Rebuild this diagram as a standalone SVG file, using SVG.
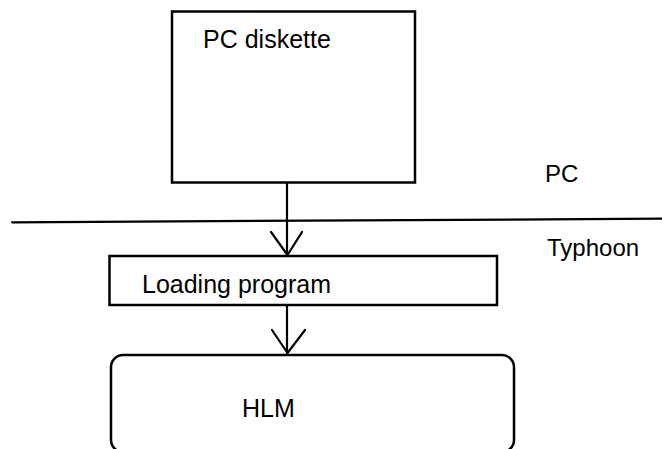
<svg xmlns="http://www.w3.org/2000/svg" width="662" height="449" viewBox="0 0 662 449">
  <style>
    .box { fill: #ffffff; stroke: #000000; stroke-width: 2.5; }
    .edge { fill: none; stroke: #000000; stroke-width: 2.2; stroke-linecap: round; stroke-linejoin: round; }
    .lbl { font-family: "Liberation Sans", Arial, sans-serif; font-size: 25px; fill: #000000; }
    .zone { font-family: "Liberation Sans", Arial, sans-serif; font-size: 24px; fill: #000000; }
  </style>
  <rect width="662" height="449" fill="#ffffff"/>

  <!-- boundary between PC and Typhoon -->
  <g id="boundary">
    <line class="edge" x1="12" y1="222.3" x2="662" y2="218.7"/>
    <text class="zone" x="545" y="182">PC</text>
    <text class="zone" x="547" y="256">Typhoon</text>
  </g>

  <g id="pc-diskette">
    <rect class="box" x="172" y="11.5" width="243" height="171"/>
    <text class="lbl" x="203" y="48">PC diskette</text>
  </g>

  <g id="loading-program">
    <rect class="box" x="109.5" y="256" width="387.5" height="49"/>
    <text class="lbl" x="142" y="293">Loading program</text>
  </g>

  <g id="hlm">
    <rect class="box" x="111" y="355" width="403" height="97" rx="12" ry="12"/>
    <text class="lbl" x="242" y="417">HLM</text>
  </g>

  <g id="connectors">
    <line class="edge" x1="287" y1="183" x2="287" y2="255"/>
    <polyline class="edge" points="271,232 287.5,255 302,232"/>
    <line class="edge" x1="287" y1="305" x2="287" y2="353"/>
    <polyline class="edge" points="272,330 287.5,353 305,330"/>
  </g>
</svg>
